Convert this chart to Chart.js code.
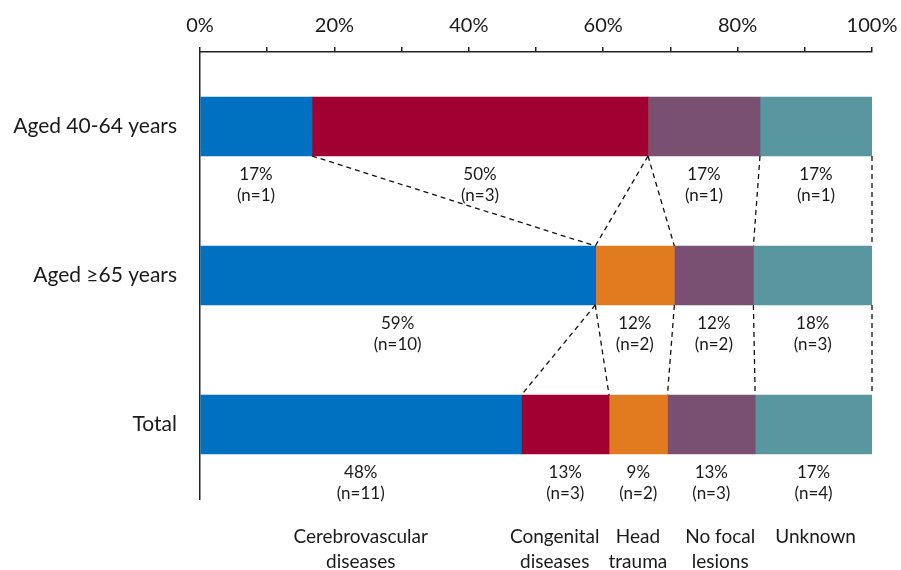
<!DOCTYPE html>
<html>
<head>
<meta charset="utf-8">
<script src="https://cdn.jsdelivr.net/npm/chart.js@4/dist/chart.umd.min.js"></script>
<style>
  html, body { margin: 0; padding: 0; background: #fff; }
  #wrap { width: 901px; height: 570px; }
</style>
</head>
<body>
<div id="wrap"><canvas id="c" width="901" height="570"></canvas></div>
<script>
// Age groups (rows, top to bottom)
const groups = ['Aged 40-64 years', 'Aged \u226565 years', 'Total'];

// Cause categories; names are shown in two lines under the last bar
const causes = ['Cerebrovascular diseases', 'Congenital diseases', 'Head trauma', 'No focal lesions', 'Unknown'];
const causeLines = [['Cerebrovascular', 'diseases'], ['Congenital', 'diseases'], ['Head', 'trauma'], ['No focal', 'lesions'], ['Unknown']];

// Patient counts per cause, one value per age group
const cerebrovascular = [1, 10, 11];
const congenital      = [3, 0, 3];
const headTrauma      = [0, 2, 2];
const noFocal         = [1, 2, 3];
const unknown         = [1, 3, 4];

// Axis tick labels
const xTicks = [0, 20, 40, 60, 80, 100];

const colors = ['#0070C0', '#A20032', '#E07B1F', '#7A5072', '#5896A0'];
const counts = [cerebrovascular, congenital, headTrauma, noFocal, unknown];
const totals = groups.map((g, j) => counts.reduce((s, arr) => s + arr[j], 0));
const shares = counts.map(arr => arr.map((v, j) => v / totals[j] * 100));

const FONT = 'Lato, "Open Sans", sans-serif';
const TEXT = '#1a1a1a';

// Labels under each segment plus dashed connectors between the bars
const annotate = {
  id: 'annotate',
  afterDatasetsDraw(chart) {
    const ctx = chart.ctx;
    const xs = chart.scales.x;
    const nSeries = counts.length;
    const bars = chart.getDatasetMeta(0).data;

    // cumulative edges for every row
    const edges = groups.map((g, j) => {
      let acc = 0;
      return shares.map(s => (acc += s[j]));
    });

    ctx.save();
    // dashed connector lines
    ctx.strokeStyle = '#111';
    ctx.lineWidth = 1.3;
    ctx.setLineDash([5, 4]);
    for (let j = 0; j < groups.length - 1; j++) {
      const a = bars[j], b = bars[j + 1];
      const yBottom = a.y + a.height / 2;
      const yTop = b.y - b.height / 2;
      for (let i = 0; i < nSeries; i++) {
        ctx.beginPath();
        ctx.moveTo(xs.getPixelForValue(edges[j][i]), yBottom);
        ctx.lineTo(xs.getPixelForValue(edges[j + 1][i]), yTop);
        ctx.stroke();
      }
    }
    ctx.setLineDash([]);

    // value labels below every non-empty segment
    ctx.fillStyle = TEXT;
    ctx.textAlign = 'center';
    ctx.textBaseline = 'middle';
    ctx.font = '17px ' + FONT;
    groups.forEach((g, j) => {
      const bar = bars[j];
      const yb = bar.y + bar.height / 2;
      let start = 0;
      for (let i = 0; i < nSeries; i++) {
        const end = edges[j][i];
        if (counts[i][j] > 0) {
          const cx = xs.getPixelForValue((start + end) / 2);
          ctx.fillText(Math.round(shares[i][j]) + '%', cx, yb + 19);
          ctx.fillText('(n=' + counts[i][j] + ')', cx, yb + 40);
        }
        start = end;
      }
    });

    // cause names under the last bar, pushed apart where they would crowd
    const last = groups.length - 1;
    ctx.font = '19px ' + FONT;
    const minGap = 20;
    let start = 0;
    const centers = [], widths = [];
    for (let i = 0; i < nSeries; i++) {
      const end = edges[last][i];
      centers.push(xs.getPixelForValue((start + end) / 2));
      widths.push(Math.max(...causeLines[i].map(t => ctx.measureText(t).width)));
      start = end;
    }
    for (let i = 0; i < nSeries - 1; i++) {
      const gap = (centers[i + 1] - widths[i + 1] / 2) - (centers[i] + widths[i] / 2);
      if (gap < minGap) {
        const d = (minGap - gap) / 2;
        centers[i] -= d;
        centers[i + 1] += d;
      }
    }
    for (let i = 0; i < nSeries; i++) {
      causeLines[i].forEach((line, k) => ctx.fillText(line, centers[i], 537 + k * 25));
    }
    ctx.restore();
  }
};

new Chart(document.getElementById('c'), {
  type: 'bar',
  data: {
    labels: groups,
    datasets: causes.map((name, i) => ({
      label: name,
      data: shares[i],
      backgroundColor: colors[i],
      borderWidth: 0,
      barThickness: 59
    }))
  },
  options: {
    indexAxis: 'y',
    responsive: false,
    animation: false,
    layout: { padding: { left: 0, right: 29, top: 0, bottom: 71 } },
    plugins: { legend: { display: false }, tooltip: { enabled: false } },
    scales: {
      x: {
        position: 'top',
        stacked: true,
        min: 0,
        max: 100,
        ticks: {
          stepSize: 10,
          autoSkip: false,
          maxRotation: 0,
          padding: 9,
          color: TEXT,
          font: { family: FONT, size: 20 },
          callback: v => xTicks.includes(v) ? v + '%' : ''
        },
        grid: { drawOnChartArea: false, drawTicks: true, tickLength: 5, color: '#222', lineWidth: 1.5 },
        border: { display: true, color: '#222', width: 1.5 },
        afterFit: s => { s.height = 52; s.paddingLeft = 0; s.paddingRight = 0; }
      },
      y: {
        stacked: true,
        ticks: { padding: 23, color: TEXT, font: { family: FONT, size: 21 } },
        grid: { display: true, drawOnChartArea: false, drawTicks: false, color: 'rgba(0,0,0,0)' },
        border: { display: true, color: '#222', width: 1.5 },
        afterFit: s => { s.width = 200; }
      }
    }
  },
  plugins: [annotate]
});
</script>
</body>
</html>
